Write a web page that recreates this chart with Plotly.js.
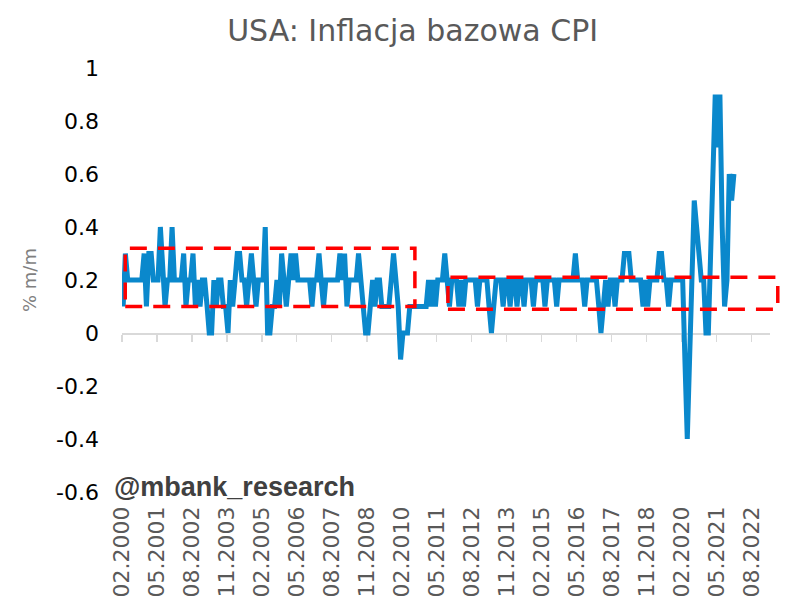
<!DOCTYPE html>
<html>
<head>
<meta charset="utf-8">
<script src="https://cdn.plot.ly/plotly-3.0.1.min.js"></script>
<style>
  html, body { margin: 0; padding: 0; background: #ffffff; }
  #chart { width: 792px; height: 614px; }
</style>
</head>
<body>
<div id="chart"></div>
<script>
// Core CPI, % m/m, monthly from 02.2000
const startYear = 2000;
const startMonth = 2;
const coreCpiMoM = [
  0.1, 0.3, 0.2, 0.2, 0.2, 0.2, 0.2, 0.2, 0.2, 0.3, 0.1,             // 2000 (02-12)
  0.3, 0.3, 0.2, 0.2, 0.2, 0.4, 0.2, 0.1, 0.2, 0.2, 0.4, 0.2,        // 2001
  0.2, 0.2, 0.2, 0.3, 0.1, 0.2, 0.2, 0.3, 0.1, 0.2, 0.1, 0.2,        // 2002
  0.2, 0.1, 0.0, 0.0, 0.2, 0.1, 0.2, 0.2, 0.1, 0.1, 0.0, 0.2,        // 2003
  0.1, 0.2, 0.3, 0.3, 0.2, 0.2, 0.1, 0.2, 0.3, 0.2, 0.1, 0.2,        // 2004
  0.2, 0.2, 0.4, 0.0, 0.0, 0.1, 0.1, 0.2, 0.1, 0.3, 0.2, 0.1,        // 2005
  0.2, 0.3, 0.2, 0.3, 0.2, 0.2, 0.2, 0.2, 0.2, 0.2, 0.1, 0.2,        // 2006
  0.2, 0.3, 0.2, 0.1, 0.2, 0.2, 0.2, 0.2, 0.2, 0.2, 0.3, 0.2,        // 2007
  0.3, 0.1, 0.2, 0.2, 0.2, 0.2, 0.3, 0.2, 0.1, 0.0, 0.0, 0.1,        // 2008
  0.2, 0.1, 0.2, 0.2, 0.1, 0.1, 0.1, 0.1, 0.2, 0.3, 0.2, 0.1,        // 2009
  -0.1, 0.0, 0.0, 0.0, 0.1, 0.1, 0.1, 0.1, 0.1, 0.1, 0.1, 0.1,       // 2010
  0.2, 0.1, 0.2, 0.1, 0.2, 0.2, 0.2, 0.3, 0.2, 0.1, 0.2, 0.2,        // 2011
  0.2, 0.1, 0.2, 0.1, 0.2, 0.2, 0.2, 0.2, 0.2, 0.1, 0.2, 0.2,        // 2012
  0.2, 0.2, 0.1, 0.0, 0.1, 0.2, 0.2, 0.2, 0.1, 0.2, 0.2, 0.1,        // 2013
  0.2, 0.2, 0.1, 0.2, 0.2, 0.1, 0.2, 0.2, 0.2, 0.1, 0.2, 0.2,        // 2014
  0.2, 0.2, 0.1, 0.2, 0.2, 0.2, 0.2, 0.1, 0.2, 0.2, 0.2, 0.2,        // 2015
  0.2, 0.2, 0.2, 0.3, 0.2, 0.2, 0.2, 0.1, 0.2, 0.2, 0.2, 0.2,        // 2016
  0.2, 0.1, 0.0, 0.1, 0.2, 0.1, 0.2, 0.2, 0.1, 0.2, 0.2, 0.2,        // 2017
  0.3, 0.3, 0.3, 0.2, 0.2, 0.2, 0.2, 0.2, 0.1, 0.2, 0.1, 0.2,        // 2018
  0.2, 0.2, 0.2, 0.3, 0.3, 0.2, 0.2, 0.1, 0.2, 0.2, 0.2, 0.2,        // 2019
  0.2, 0.2, -0.1, -0.4, -0.1, 0.2, 0.5, 0.4, 0.3, 0.2, 0.2, 0.0,     // 2020
  0.0, 0.3, 0.6, 0.9, 0.7, 0.9, 0.4, 0.1, 0.2, 0.6, 0.5, 0.6         // 2021
];

const xTickLabels = ['02.2000', '05.2001', '08.2002', '11.2003', '02.2005', '05.2006',
  '08.2007', '11.2008', '02.2010', '05.2011', '08.2012', '11.2013', '02.2015',
  '05.2016', '08.2017', '11.2018', '02.2020', '05.2021', '08.2022'];
const yTickVals = [1, 0.8, 0.6, 0.4, 0.2, 0, -0.2, -0.4, -0.6];
const yTickLabels = ['1', '0.8', '0.6', '0.4', '0.2', '0', '-0.2', '-0.4', '-0.6'];

// band limits (% m/m) of the two dashed boxes
const band1 = [0.1, 0.32];
const band2 = [0.09, 0.21];

function pad(n) { return (n < 10 ? '0' : '') + n; }

// month -> middle of the month (Excel puts points between the ticks)
let dates = coreCpiMoM.map(function (v, i) {
  let m = startMonth - 1 + i;
  let y = startYear + Math.floor(m / 12);
  return y + '-' + pad(m % 12 + 1) + '-16';
});

let tickVals = xTickLabels.map(function (t) {
  let p = t.split('.');
  return p[1] + '-' + p[0] + '-01';
});

let xRange = ['2000-02-01', '2023-04-01'];

let trace = {
  x: dates,
  y: coreCpiMoM,
  mode: 'lines',
  type: 'scatter',
  line: { color: '#0a88cc', width: 5 },
  hoverinfo: 'skip'
};

// empty trace so the zero-line axis gets drawn
let axisTrace = {
  x: [], y: [], xaxis: 'x2', yaxis: 'y',
  type: 'scatter', mode: 'lines', showlegend: false, hoverinfo: 'skip'
};

let dashLine = { color: '#ff0000', width: 3.5, dash: '17px,11px' };

let layout = {
  width: 792,
  height: 614,
  margin: { l: 122, r: 22, t: 68, b: 122 },
  paper_bgcolor: '#ffffff',
  plot_bgcolor: '#ffffff',
  showlegend: false,
  font: { family: "'DejaVu Sans', Verdana, sans-serif", color: '#595959' },
  title: {
    text: 'USA: Inflacja bazowa CPI',
    font: { size: 30, color: '#595959' },
    x: 0.521, xanchor: 'center', xref: 'container',
    y: 0.951, yanchor: 'middle', yref: 'container'
  },
  xaxis: {
    type: 'date',
    range: xRange,
    tickmode: 'array',
    tickvals: tickVals,
    ticktext: xTickLabels,
    tickangle: -90,
    tickfont: { size: 22, color: '#595959' },
    ticks: '',
    showline: false,
    showgrid: false,
    zeroline: false,
    ticklabelstandoff: 9,
    fixedrange: true
  },
  xaxis2: {
    type: 'date',
    overlaying: 'x',
    matches: 'x',
    anchor: 'free',
    position: 0.375,
    range: xRange,
    tickmode: 'array',
    tickvals: tickVals,
    showticklabels: false,
    ticks: 'outside',
    ticklen: 7,
    tickwidth: 1.5,
    tickcolor: '#d9d9d9',
    showline: true,
    linecolor: '#d9d9d9',
    linewidth: 1.5,
    showgrid: false,
    zeroline: false,
    layer: 'below traces'
  },
  yaxis: {
    range: [-0.6, 1],
    tickmode: 'array',
    tickvals: yTickVals,
    ticktext: yTickLabels,
    tickfont: { size: 22, color: '#000000' },
    ticks: '',
    ticklabelstandoff: 22,
    showgrid: false,
    zeroline: false,
    showline: false,
    title: {
      text: '% m/m',
      font: { size: 18, color: '#7f7f7f' },
      standoff: 14
    },
    fixedrange: true
  },
  shapes: [
    {
      type: 'rect', xref: 'paper', yref: 'y',
      x0: 0.005, x1: 0.452, y0: band1[0], y1: band1[1],
      line: dashLine, fillcolor: 'rgba(0,0,0,0)', layer: 'above'
    },
    {
      type: 'rect', xref: 'paper', yref: 'y',
      x0: 0.503, x1: 1.012, y0: band2[0], y1: band2[1],
      line: dashLine, fillcolor: 'rgba(0,0,0,0)', layer: 'above'
    }
  ],
  annotations: [
    {
      text: '@mbank_research',
      xref: 'paper', yref: 'paper',
      x: -0.016, xanchor: 'left',
      y: 0.012, yanchor: 'middle',
      showarrow: false,
      font: { family: "'Liberation Sans', Arial, sans-serif", size: 27, color: '#404040', weight: 'bold' }
    }
  ]
};

let config = { displayModeBar: false, staticPlot: true };

Plotly.newPlot('chart', [trace, axisTrace], layout, config);
</script>
</body>
</html>
